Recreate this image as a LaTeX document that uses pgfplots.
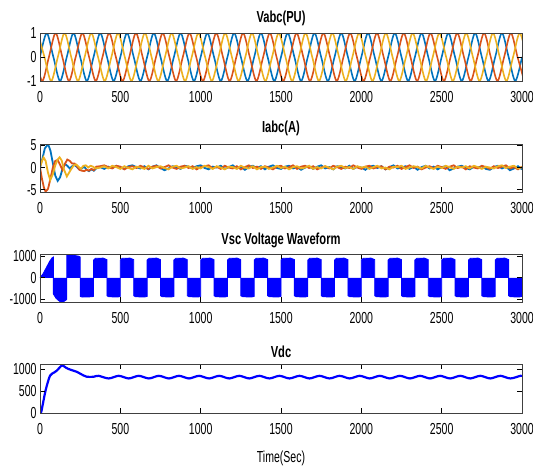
\documentclass[border=0pt]{standalone}
\usepackage{fontspec}
\setmainfont{Liberation Sans}[FakeStretch=0.66, BoldFeatures={FakeStretch=0.70}]
\usepackage{pgfplots}
\pgfplotsset{compat=1.18}
\definecolor{mb}{RGB}{0,114,189}
\definecolor{mr}{RGB}{217,83,25}
\definecolor{my}{RGB}{237,177,32}
\pgfplotsset{mstyle/.style={scale only axis, width=482bp, xmin=0, xmax=3000,
  xtick={0,500,...,3000}, tick align=inside, major tick length=5bp,
  axis line style={black!75, line width=0.6bp}, every tick/.style={black, line width=0.6bp},
  ticklabel style={font=\fontsize{16}{18}\selectfont},
  xticklabel style={yshift=-7bp},
  title style={font=\fontsize{16}{18}\selectfont\bfseries, at={(0.5,1)}, anchor=center},
  /pgf/number format/assume math mode=true, /pgf/number format/1000 sep={},
  scaled ticks=false, axis on top, anchor=north west}}
\begin{document}
\begin{tikzpicture}
\path[use as bounding box] (0,0) rectangle (533bp,-471bp);
% ---------------- Vabc
\begin{axis}[mstyle, at={(40bp,-33bp)}, height=48bp, ymin=-1, ymax=1, ytick={-1,0,1},
  title={Vabc(PU)}, title style={yshift=9bp}]
\addplot[mb, line width=1.6bp, smooth] coordinates {
(0,0)(41.7,1)(83.3,0)(125,-1)(166.7,0)(208.3,1)(250,0)(291.7,-1)(333.3,0)(375,1)(416.7,0)(458.3,-1)
(500,0)(541.7,1)(583.3,0)(625,-1)(666.7,0)(708.3,1)(750,0)(791.7,-1)(833.3,0)(875,1)(916.7,0)(958.3,-1)
(1000,0)(1041.7,1)(1083.3,0)(1125,-1)(1166.7,0)(1208.3,1)(1250,0)(1291.7,-1)(1333.3,0)(1375,1)(1416.7,0)(1458.3,-1)
(1500,0)(1541.7,1)(1583.3,0)(1625,-1)(1666.7,0)(1708.3,1)(1750,0)(1791.7,-1)(1833.3,0)(1875,1)(1916.7,0)(1958.3,-1)
(2000,0)(2041.7,1)(2083.3,0)(2125,-1)(2166.7,0)(2208.3,1)(2250,0)(2291.7,-1)(2333.3,0)(2375,1)(2416.7,0)(2458.3,-1)
(2500,0)(2541.7,1)(2583.3,0)(2625,-1)(2666.7,0)(2708.3,1)(2750,0)(2791.7,-1)(2833.3,0)(2875,1)(2916.7,0)(2958.3,-1)
(3000,0)};
\addplot[mr, line width=1.6bp, smooth] coordinates {
(-27.8,0)(13.9,-1)(55.6,0)(97.2,1)(138.9,0)(180.6,-1)(222.2,0)(263.9,1)(305.6,0)(347.2,-1)(388.9,0)(430.6,1)
(472.2,0)(513.9,-1)(555.6,0)(597.2,1)(638.9,0)(680.6,-1)(722.2,0)(763.9,1)(805.6,0)(847.2,-1)(888.9,0)(930.6,1)
(972.2,0)(1013.9,-1)(1055.6,0)(1097.2,1)(1138.9,0)(1180.6,-1)(1222.2,0)(1263.9,1)(1305.6,0)(1347.2,-1)(1388.9,0)(1430.6,1)
(1472.2,0)(1513.9,-1)(1555.6,0)(1597.2,1)(1638.9,0)(1680.6,-1)(1722.2,0)(1763.9,1)(1805.6,0)(1847.2,-1)(1888.9,0)(1930.6,1)
(1972.2,0)(2013.9,-1)(2055.6,0)(2097.2,1)(2138.9,0)(2180.6,-1)(2222.2,0)(2263.9,1)(2305.6,0)(2347.2,-1)(2388.9,0)(2430.6,1)
(2472.2,0)(2513.9,-1)(2555.6,0)(2597.2,1)(2638.9,0)(2680.6,-1)(2722.2,0)(2763.9,1)(2805.6,0)(2847.2,-1)(2888.9,0)(2930.6,1)
(2972.2,0)(3013.9,-1)};
\addplot[my, line width=1.6bp, smooth] coordinates {
(-13.9,1)(27.8,0)(69.4,-1)(111.1,0)(152.8,1)(194.4,0)(236.1,-1)(277.8,0)(319.4,1)(361.1,0)(402.8,-1)(444.4,0)
(486.1,1)(527.8,0)(569.4,-1)(611.1,0)(652.8,1)(694.4,0)(736.1,-1)(777.8,0)(819.4,1)(861.1,0)(902.8,-1)(944.4,0)
(986.1,1)(1027.8,0)(1069.4,-1)(1111.1,0)(1152.8,1)(1194.4,0)(1236.1,-1)(1277.8,0)(1319.4,1)(1361.1,0)(1402.8,-1)(1444.4,0)
(1486.1,1)(1527.8,0)(1569.4,-1)(1611.1,0)(1652.8,1)(1694.4,0)(1736.1,-1)(1777.8,0)(1819.4,1)(1861.1,0)(1902.8,-1)(1944.4,0)
(1986.1,1)(2027.8,0)(2069.4,-1)(2111.1,0)(2152.8,1)(2194.4,0)(2236.1,-1)(2277.8,0)(2319.4,1)(2361.1,0)(2402.8,-1)(2444.4,0)
(2486.1,1)(2527.8,0)(2569.4,-1)(2611.1,0)(2652.8,1)(2694.4,0)(2736.1,-1)(2777.8,0)(2819.4,1)(2861.1,0)(2902.8,-1)(2944.4,0)
(2986.1,1)(3027.8,0)};
\end{axis}
% ---------------- Iabc
\begin{axis}[mstyle, at={(40bp,-144bp)}, height=48bp, ymin=-5.5, ymax=5.3, ytick={-5,0,5},
  title={Iabc(A)}, title style={yshift=9.5bp}]
\addplot[mb, line width=1.8bp] coordinates {
(0,0)(15,2)(30,4.3)(50,5.3)(65,3.8)(80,1)(95,-1.8)(110,-3.0)(125,-2.2)(140,-0.3)(155,0.8)(170,0.4)(185,-0.2)(200,0.3)(215,0.6)(230,0.1)(245,-0.4)(260,-0.2)(275,0.2)(290,-0.5)(305,-0.8)(320,-0.4)(335,-0.7)(350,-0.2)
(375,0.1)(400,-0.3)(425,0.2)(450,-0.1)(475,0.4)(500,0.0)(525,-0.3)(550,0.3)(575,0.5)(600,0.1)(625,-0.2)(650,0.3)(675,-0.4)(700,0.2)(725,0.5)(750,-0.1)(775,-0.6)(800,-0.2)(825,0.3)(850,0.1)(875,-0.3)(900,0.4)(925,0.2)(950,-0.2)(975,0.3)(1000,0.5)
(1025,-0.1)(1050,-0.4)(1075,0.2)(1100,0.0)(1125,0.4)(1150,-0.3)(1175,0.1)(1200,0.5)(1225,-0.2)(1250,0.2)(1275,-0.5)(1300,0.1)(1325,0.4)(1350,-0.1)(1375,0.3)(1400,-0.4)(1425,0.2)(1450,0.5)(1475,-0.1)(1500,-0.3)
(1525,0.2)(1550,0.4)(1575,-0.2)(1600,0.1)(1625,-0.5)(1650,0.0)(1675,0.3)(1700,-0.3)(1725,0.2)(1750,0.5)(1775,-0.2)(1800,0.1)(1825,-0.4)(1850,0.3)(1875,0.1)(1900,-0.2)(1925,0.4)(1950,-0.3)(1975,0.2)(2000,0.0)
(2025,-0.5)(2050,0.2)(2075,0.4)(2100,-0.1)(2125,0.3)(2150,-0.4)(2175,0.1)(2200,0.5)(2225,-0.2)(2250,0.0)(2275,0.3)(2300,-0.3)(2325,0.2)(2350,-0.5)(2375,0.1)(2400,0.4)(2425,-0.2)(2450,0.2)(2475,-0.4)(2500,0.1)
(2525,0.3)(2550,-0.6)(2575,-0.2)(2600,0.2)(2625,0.4)(2650,-0.1)(2675,-0.4)(2700,0.2)(2725,0.0)(2750,0.3)(2775,-0.3)(2800,-0.5)(2825,0.1)(2850,0.4)(2875,-0.2)(2900,0.2)(2925,-0.6)(2950,-0.2)(2975,0.3)(3000,-0.4)};
\addplot[mr, line width=1.8bp] coordinates {
(0,0)(12,-2.5)(25,-4.6)(35,-5.4)(50,-4.8)(65,-2.5)(80,0)(95,1.5)(110,1.7)(125,0.6)(140,-0.5)(155,0.8)(170,1.8)(185,1.5)(200,0.9)(215,0.9)(230,0.3)(245,-0.5)(260,-0.7)(275,-0.8)(290,-0.5)(305,-0.7)(320,-0.3)(335,-0.6)(350,0.2)
(375,0.3)(400,0.5)(425,0.1)(450,-0.2)(475,0.4)(500,0.2)(525,-0.4)(550,0.1)(575,0.3)(600,-0.1)(625,0.4)(650,0.0)(675,-0.3)(700,0.2)(725,0.4)(750,-0.2)(775,0.1)(800,0.5)(825,0.0)(850,-0.3)(875,0.2)(900,0.4)(925,-0.1)(950,0.3)(975,-0.4)(1000,0.1)
(1025,0.3)(1050,0.5)(1075,-0.2)(1100,0.2)(1125,-0.3)(1150,0.4)(1175,0.0)(1200,-0.2)(1225,0.3)(1250,-0.4)(1275,0.1)(1300,0.5)(1325,-0.1)(1350,0.2)(1375,-0.3)(1400,0.3)(1425,0.0)(1450,-0.4)(1475,0.2)(1500,0.4)
(1525,-0.2)(1550,0.1)(1575,0.5)(1600,-0.3)(1625,0.2)(1650,0.4)(1675,-0.1)(1700,0.3)(1725,-0.4)(1750,0.0)(1775,0.3)(1800,-0.2)(1825,0.4)(1850,0.1)(1875,-0.3)(1900,0.2)(1925,-0.1)(1950,0.5)(1975,0.0)(2000,-0.3)
(2025,0.2)(2050,0.4)(2075,-0.2)(2100,0.1)(2125,0.3)(2150,-0.4)(2175,0.2)(2200,0.0)(2225,0.4)(2250,-0.3)(2275,0.1)(2300,0.5)(2325,-0.1)(2350,0.2)(2375,-0.4)(2400,0.0)(2425,0.3)(2450,-0.2)(2475,0.4)(2500,0.1)
(2525,-0.3)(2550,0.2)(2575,0.5)(2600,-0.1)(2625,0.2)(2650,-0.4)(2675,0.3)(2700,0.0)(2725,-0.2)(2750,0.4)(2775,0.1)(2800,-0.3)(2825,0.3)(2850,-0.1)(2875,0.2)(2900,0.5)(2925,-0.2)(2950,0.1)(2975,-0.4)(3000,0.2)};
\addplot[my, line width=1.8bp] coordinates {
(0,0)(10,1.2)(22,2.3)(35,1.5)(50,-1.2)(64,-2.8)(80,-1.5)(95,0.5)(110,1.8)(122,2.3)(135,1.6)(150,-0.5)(167,-2.0)(180,-1.2)(195,-0.3)(210,0.5)(225,0.7)(240,0.2)(255,-0.3)(270,0.4)(285,0.5)(300,0)(315,0.4)(330,0.2)(345,-0.2)
(375,0.0)(400,0.3)(425,-0.2)(450,0.4)(475,0.1)(500,-0.3)(525,0.3)(550,-0.1)(575,-0.4)(600,0.2)(625,0.0)(650,-0.3)(675,0.4)(700,-0.2)(725,0.1)(750,0.3)(775,-0.1)(800,-0.4)(825,0.2)(850,0.4)(875,-0.2)(900,0.0)(925,0.3)(950,-0.3)(975,0.1)(1000,-0.2)
(1025,0.4)(1050,0.1)(1075,-0.3)(1100,0.3)(1125,0.0)(1150,-0.4)(1175,0.2)(1200,0.1)(1225,-0.3)(1250,0.4)(1275,0.0)(1300,-0.2)(1325,0.3)(1350,-0.4)(1375,0.1)(1400,0.2)(1425,-0.3)(1450,0.0)(1475,0.4)(1500,-0.1)
(1525,0.2)(1550,-0.4)(1575,0.1)(1600,0.3)(1625,-0.2)(1650,0.0)(1675,0.4)(1700,-0.3)(1725,0.1)(1750,-0.2)(1775,0.3)(1800,0.0)(1825,-0.4)(1850,0.2)(1875,0.4)(1900,-0.1)(1925,0.1)(1950,-0.3)(1975,0.3)(2000,0.0)
(2025,0.2)(2050,-0.3)(2075,0.1)(2100,0.4)(2125,-0.2)(2150,0.0)(2175,-0.4)(2200,0.2)(2225,0.1)(2250,0.4)(2275,-0.3)(2300,0.0)(2325,0.3)(2350,0.1)(2375,-0.2)(2400,0.4)(2425,0.0)(2450,-0.3)(2475,0.2)(2500,-0.1)
(2525,0.4)(2550,0.1)(2575,-0.3)(2600,0.2)(2625,0.0)(2650,0.3)(2675,-0.2)(2700,0.4)(2725,0.1)(2750,-0.3)(2775,0.2)(2800,0.0)(2825,-0.2)(2850,0.3)(2875,0.5)(2900,-0.1)(2925,0.2)(2950,0.4)(2975,-0.2)(3000,0.1)};
\end{axis}
% ---------------- Vsc
\begin{axis}[mstyle, at={(40bp,-254bp)}, height=48bp, ymin=-1120, ymax=1100, ytick={-1000,0,1000},
  title={Vsc Voltage Waveform}, title style={yshift=7.5bp}]
\addplot[draw=blue, fill=blue, line width=0.8bp] coordinates {
(0,0)(20,200)(40,480)(60,760)(75,920)(83.3,960)(83.3,-750)(100,-950)(120,-1080)(136,-1130)(150,-1090)(160,-1040)(166.7,-1000)(166.7,1080)(180,1090)(210,1040)(240,1000)(250,960)(250,-860)(262,-890)(320,-880)(333.3,-860)(333.3,820)(345.3,900)(393.3,910)(416.7,840)(416.7,-830)(428.7,-880)(486.7,-885)(500,-860)
(500,820)(512,900)(560,910)(583.3,840)(583.3,-830)(595.3,-880)(653.3,-885)(666.7,-860)(666.7,820)(678.7,900)(726.7,910)(750,840)(750,-830)(762,-880)(820,-885)(833.3,-860)(833.3,820)(845.3,900)(893.3,910)(916.7,840)(916.7,-830)(928.7,-880)(986.7,-885)(1000,-860)
(1000,820)(1012,900)(1060,910)(1083.3,840)(1083.3,-830)(1095.3,-880)(1153.3,-885)(1166.7,-860)(1166.7,820)(1178.7,900)(1226.7,910)(1250,840)(1250,-830)(1262,-880)(1320,-885)(1333.3,-860)(1333.3,820)(1345.3,900)(1393.3,910)(1416.7,840)(1416.7,-830)(1428.7,-880)(1486.7,-885)(1500,-860)
(1500,820)(1512,900)(1560,910)(1583.3,840)(1583.3,-830)(1595.3,-880)(1653.3,-885)(1666.7,-860)(1666.7,820)(1678.7,900)(1726.7,910)(1750,840)(1750,-830)(1762,-880)(1820,-885)(1833.3,-860)(1833.3,820)(1845.3,900)(1893.3,910)(1916.7,840)(1916.7,-830)(1928.7,-880)(1986.7,-885)(2000,-860)
(2000,820)(2012,900)(2060,910)(2083.3,840)(2083.3,-830)(2095.3,-880)(2153.3,-885)(2166.7,-860)(2166.7,820)(2178.7,900)(2226.7,910)(2250,840)(2250,-830)(2262,-880)(2320,-885)(2333.3,-860)(2333.3,820)(2345.3,900)(2393.3,910)(2416.7,840)(2416.7,-830)(2428.7,-880)(2486.7,-885)(2500,-860)
(2500,820)(2512,900)(2560,910)(2583.3,840)(2583.3,-830)(2595.3,-880)(2653.3,-885)(2666.7,-860)(2666.7,820)(2678.7,900)(2726.7,910)(2750,840)(2750,-830)(2762,-880)(2820,-885)(2833.3,-860)(2833.3,820)(2845.3,900)(2893.3,910)(2916.7,840)(2916.7,-830)(2928.7,-880)(2986.7,-885)(3000,-860)
(3000,0)};
\end{axis}
% ---------------- Vdc
\begin{axis}[mstyle, at={(40bp,-364bp)}, height=49bp, ymin=0, ymax=1120, ytick={0,500,1000},
  title={Vdc}, title style={yshift=6.5bp},
  xlabel={Time(Sec)}, xlabel style={font=\fontsize{16}{18}\selectfont, at={(axis description cs:0.5,0)}, anchor=center, yshift=-45bp}]
\addplot[blue, line width=2.2bp, smooth] coordinates {
(0,0)(8,30)(20,250)(35,520)(50,720)(62,850)(75,900)(90,930)(105,970)(120,1030)(135,1085)(145,1080)(160,1040)(175,1010)(190,990)(210,965)(230,940)(250,900)(270,860)(290,830)(310,825)(335,830)(365,850)
(427.5,790)(490,850)(552.5,790)(615,850)(677.5,790)(740,850)(802.5,790)(865,850)(927.5,790)(990,850)(1052.5,790)(1115,850)(1177.5,790)(1240,850)(1302.5,790)(1365,850)(1427.5,790)(1490,850)
(1552.5,790)(1615,850)(1677.5,790)(1740,850)(1802.5,790)(1865,850)(1927.5,790)(1990,850)(2052.5,790)(2115,850)(2177.5,790)(2240,850)(2302.5,790)(2365,850)(2427.5,790)(2490,850)
(2552.5,790)(2615,850)(2677.5,790)(2740,850)(2802.5,790)(2865,850)(2927.5,790)(2990,850)(3000,848)};
\end{axis}
\end{tikzpicture}
\end{document}
